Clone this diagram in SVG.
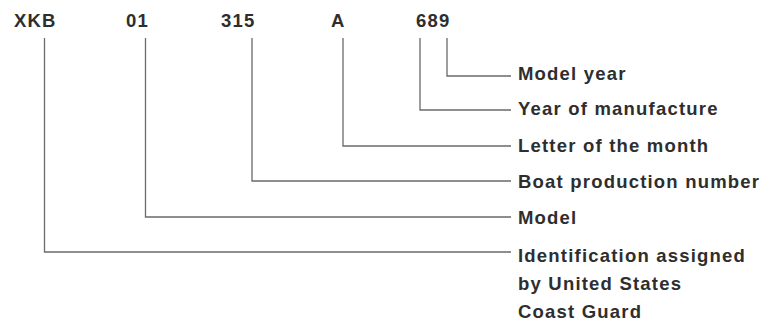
<svg xmlns="http://www.w3.org/2000/svg" width="767" height="321" viewBox="0 0 767 321">
<style>
text{font-family:"Liberation Sans",Arial,sans-serif;font-weight:bold;font-size:18.5px;letter-spacing:1.2px;fill:#2e2e2e}
.c{fill:none;stroke:#6a6a6a;stroke-width:1.3}
</style>
<rect width="767" height="321" fill="#fff"/>
<g id="codes">
<g id="code-xkb"><text x="14" y="27">XKB</text></g>
<g id="code-01"><text x="126" y="27">01</text></g>
<g id="code-315"><text x="221" y="27">315</text></g>
<g id="code-a"><text x="331" y="27">A</text></g>
<g id="code-689"><text x="416" y="27">689</text></g>
</g>
<g id="connectors">
<path class="c" d="M447,38V76H511"/>
<path class="c" d="M420,38V110H511"/>
<path class="c" d="M343,38V146H511"/>
<path class="c" d="M252,38V181H511"/>
<path class="c" d="M145.5,38V217H511"/>
<path class="c" d="M44.5,38V252H511"/>
</g>
<g id="label-model-year"><text x="518" y="80">Model year</text></g>
<g id="label-year-manufacture"><text x="518" y="115">Year of manufacture</text></g>
<g id="label-letter-month"><text x="518" y="152">Letter of the month</text></g>
<g id="label-boat-production"><text x="518" y="188">Boat production number</text></g>
<g id="label-model"><text x="518" y="224">Model</text></g>
<g id="label-identification"><text x="518" y="262">Identification assigned<tspan x="518" y="290">by United States</tspan><tspan x="518" y="318">Coast Guard</tspan></text></g>
</svg>
